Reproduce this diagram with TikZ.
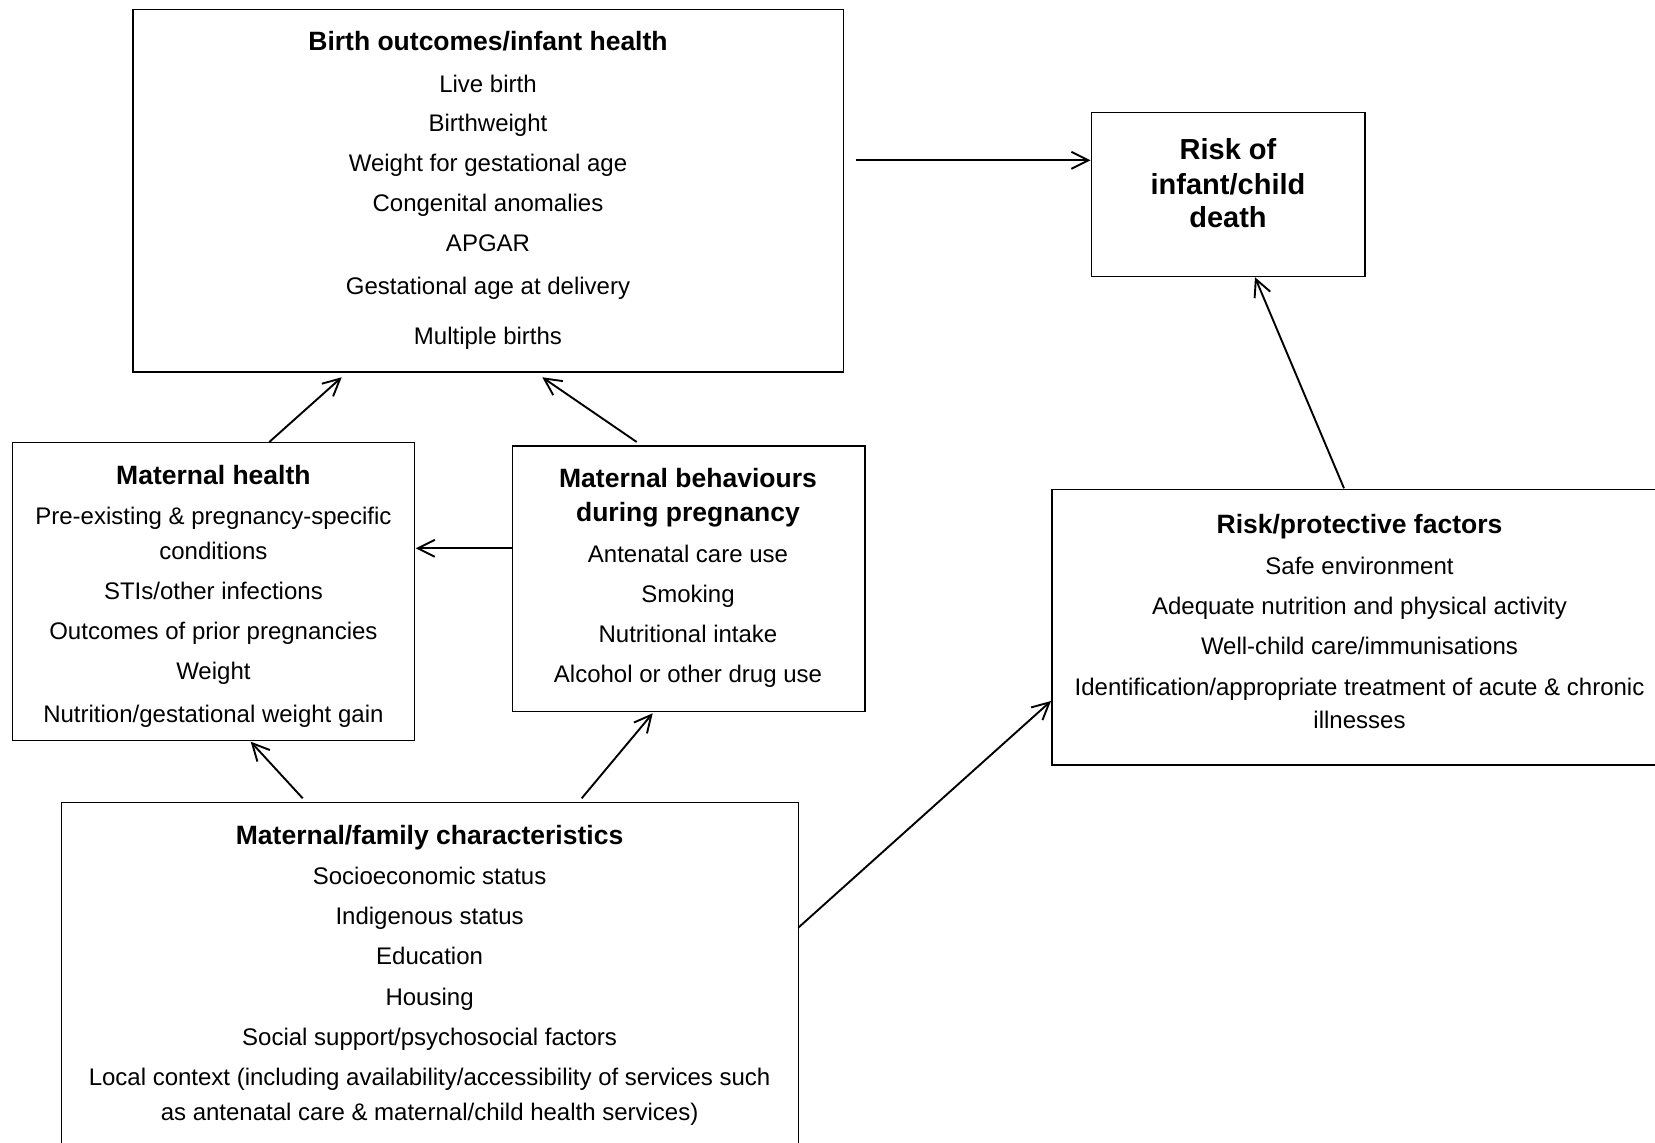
\documentclass[tikz,border=0pt]{standalone}
\usepackage{fontspec}
\setmainfont{Liberation Sans}
\usetikzlibrary{arrows.meta}
\begin{document}
\begin{tikzpicture}[x=0.5pt,y=-0.5pt,
  box/.style={draw, line width=0.75pt, rectangle, inner sep=0pt},
  body/.style={anchor=base, inner sep=0pt, font=\fontsize{12}{14}\selectfont},
  head/.style={anchor=base, inner sep=0pt, font=\fontsize{13.25}{16}\selectfont\bfseries},
  big/.style={anchor=base, inner sep=0pt, font=\fontsize{14.5}{17}\selectfont\bfseries},
  arr/.style={-{Straight Barb[length=8.5pt,width=8.5pt]}, line width=0.95pt}]
\useasboundingbox (0,0) rectangle (1655,1143);
\clip (0,0) rectangle (1655,1143);

% boxes
\node[box, minimum width=355.15pt, minimum height=181.15pt] (birth) at (488.15,190.85) {};
\node[box, minimum width=136.85pt, minimum height=82pt] (risk) at (1228.15,194.7) {};
\node[box, minimum width=200.85pt, minimum height=149pt] (mh) at (213.45,591.7) {};
\node[box, minimum width=176.35pt, minimum height=132.85pt] (mb) at (688.65,578.85) {};
\node[box, minimum width=307.5pt, minimum height=137.85pt] (rp) at (1359.5,627.15) {};
\node[box, minimum width=368.45pt, minimum height=178.65pt] (mf) at (429.85,981.35) {};

% Birth outcomes text
\node[head] (b0) at (488,51) {Birth outcomes/infant health};
\node[body] (b1) at (488,92.2) {Live birth};
\node[body] (b2) at (488,131.2) {Birthweight};
\node[body] (b3) at (488,171.2) {Weight for gestational age};
\node[body] (b4) at (488,211.2) {Congenital anomalies};
\node[body] (b5) at (488,251.2) {APGAR};
\node[body] (b6) at (488,294.5) {Gestational age at delivery};
\node[body] (b7) at (488,344.5) {Multiple births};

% Risk of death
\node[big] (r1) at (1228,159.6) {Risk of};
\node[big] (r2) at (1228,194.2) {infant/child};
\node[big] (r3) at (1228,227.9) {death};

% Maternal health
\node[head] (h0) at (213.4,484.3) {Maternal health};
\node[body] (h1) at (213.4,524.8) {Pre-existing \& pregnancy-specific};
\node[body] (h2) at (213.4,559.3) {conditions};
\node[body] (h3) at (213.4,599.8) {STIs/other infections};
\node[body] (h4) at (213.4,639.9) {Outcomes of prior pregnancies};
\node[body] (h5) at (213.4,679.5) {Weight};
\node[body] (h6) at (213.4,722.9) {Nutrition/gestational weight gain};

% Maternal behaviours
\node[head] (m0) at (688,487.1) {Maternal behaviours};
\node[head] (m1) at (688,521.7) {during pregnancy};
\node[body] (m2) at (688,562.7) {Antenatal care use};
\node[body] (m3) at (688,602.9) {Smoking};
\node[body] (m4) at (688,642.8) {Nutritional intake};
\node[body] (m5) at (688,682.9) {Alcohol or other drug use};

% Risk/protective factors
\node[head] (p0) at (1359.5,533.8) {Risk/protective factors};
\node[body] (p1) at (1359.5,574.6) {Safe environment};
\node[body] (p2) at (1359.5,614.8) {Adequate nutrition and physical activity};
\node[body] (p3) at (1359.5,655) {Well-child care/immunisations};
\node[body] (p4) at (1359.5,695.2) {Identification/appropriate treatment of acute \& chronic};
\node[body] (p5) at (1359.5,728.9) {illnesses};

% Maternal/family characteristics
\node[head] (f0) at (429.6,844.2) {Maternal/family characteristics};
\node[body] (f1) at (429.6,884.7) {Socioeconomic status};
\node[body] (f2) at (429.6,924.8) {Indigenous status};
\node[body] (f3) at (429.6,964.9) {Education};
\node[body] (f4) at (429.6,1005) {Housing};
\node[body] (f5) at (429.6,1045) {Social support/psychosocial factors};
\node[body] (f6) at (429.6,1085) {Local context (including availability/accessibility of services such};
\node[body] (f7) at (429.6,1120) {as antenatal care \& maternal/child health services)};

% connector end points
\coordinate (a1s) at (855.7,160.3);   \coordinate (a1e) at (1090.5,160.3);
\coordinate (a2s) at (269.3,442);     \coordinate (a2e) at (341.7,377.3);
\coordinate (a3s) at (636.7,442);     \coordinate (a3e) at (542.3,377.3);
\coordinate (a4s) at (512,548.3);     \coordinate (a4e) at (415.7,548.3);
\coordinate (a5s) at (302.7,798.3);   \coordinate (a5e) at (250.7,741.7);
\coordinate (a6s) at (581.7,798.3);   \coordinate (a6e) at (652.7,713.3);
\coordinate (a7s) at (798.3,927.7);   \coordinate (a7e) at (1051,701);
\coordinate (a8s) at (1344,488.3);    \coordinate (a8e) at (1255,277.3);

\draw[arr] (a1s) -- (a1e);
\draw[arr] (a2s) -- (a2e);
\draw[arr] (a3s) -- (a3e);
\draw[arr] (a4s) -- (a4e);
\draw[arr] (a5s) -- (a5e);
\draw[arr] (a6s) -- (a6e);
\draw[arr] (a7s) -- (a7e);
\draw[arr] (a8s) -- (a8e);
\end{tikzpicture}
\end{document}
